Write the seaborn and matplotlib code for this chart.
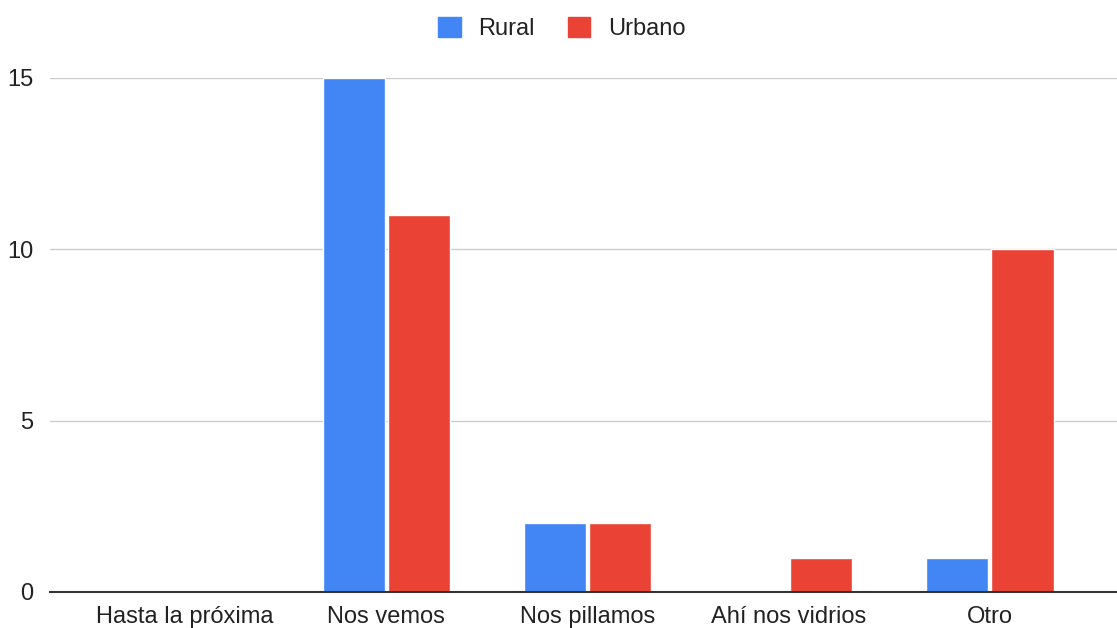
import pandas as pd
import matplotlib.pyplot as plt
import seaborn as sns
from matplotlib.patches import Patch

categories = ["Hasta la próxima", "Nos vemos", "Nos pillamos", "Ahí nos vidrios", "Otro"]
rural = [0, 15, 2, 0, 1]
urbano = [0, 11, 2, 1, 10]
series = ["Rural", "Urbano"]
colors = ["#4285F4", "#EA4335"]

df = pd.DataFrame({
    "categoria": categories * 2,
    "valor": rural + urbano,
    "serie": ["Rural"] * len(categories) + ["Urbano"] * len(categories),
})

sns.set_style("white")
plt.rcParams['font.family'] = ['Liberation Sans', 'DejaVu Sans']

fig = plt.figure(figsize=(11.17, 6.28), dpi=100)
ax = fig.add_axes([50 / 1117, 36 / 628, 1 - 50 / 1117, (592 - 78) / 628])

sns.barplot(data=df, x="categoria", y="valor", hue="serie", order=categories,
            hue_order=series, palette=colors, width=0.65, gap=0.05,
            saturation=1, ax=ax, legend=False)

ax.set_xlim(-0.672, 4.632)
ax.set_ylim(0, 15)
ax.set_yticks([0, 5, 10, 15])
ax.yaxis.grid(True, color="#cccccc", linewidth=1)
ax.set_axisbelow(True)
for s in ["top", "right", "left"]:
    ax.spines[s].set_visible(False)
ax.spines["bottom"].set_color("#333333")
ax.spines["bottom"].set_linewidth(1.5)
ax.set_xlabel("")
ax.set_ylabel("")
ax.tick_params(axis="both", length=0, labelsize=17, labelcolor="#222222")
ax.tick_params(axis="y", pad=12)
ax.tick_params(axis="x", pad=10)

handles = [Patch(facecolor=c, edgecolor=c) for c in colors]
fig.legend(handles, series, loc="center", bbox_to_anchor=(0.503, 0.955), ncol=2,
           frameon=False, fontsize=17, handlelength=0.95, handleheight=0.95,
           columnspacing=1.4, handletextpad=0.75, labelcolor="#222222")

fig.savefig("out.png", dpi=100)
